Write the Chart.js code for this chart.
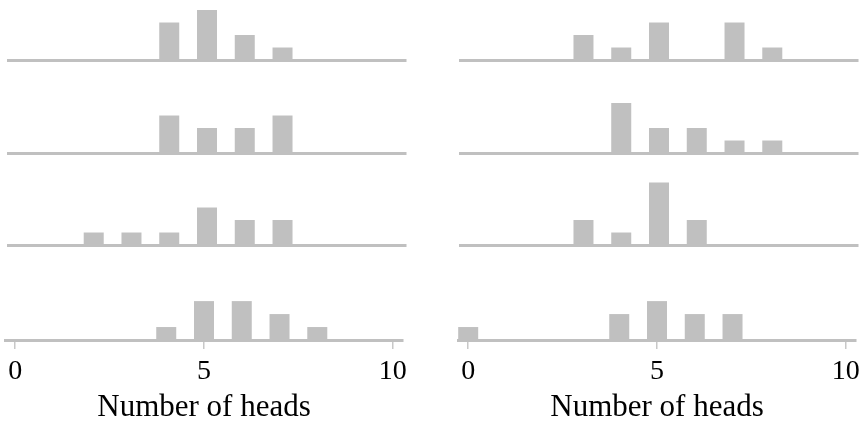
<!DOCTYPE html>
<html>
<head>
<meta charset="utf-8">
<script src="https://cdn.jsdelivr.net/npm/chart.js@4.4.1/dist/chart.umd.min.js"></script>
<style>
  html, body { margin: 0; padding: 0; background: #fff; }
  body { width: 865px; height: 424px; position: relative; overflow: hidden; }
  .panel { position: absolute; }
</style>
</head>
<body>
<div id="wrap"></div>
<script>
// number of heads in 10 flips, counted over 10 trials per panel
const heads = [0, 1, 2, 3, 4, 5, 6, 7, 8, 9, 10];
const countsL1 = [0, 0, 0, 0, 3, 4, 2, 1, 0, 0, 0];
const countsL2 = [0, 0, 0, 0, 3, 2, 2, 3, 0, 0, 0];
const countsL3 = [0, 0, 1, 1, 1, 3, 2, 2, 0, 0, 0];
const countsL4 = [0, 0, 0, 0, 1, 3, 3, 2, 1, 0, 0];
const countsR1 = [0, 0, 0, 2, 1, 3, 0, 3, 1, 0, 0];
const countsR2 = [0, 0, 0, 0, 4, 2, 2, 1, 1, 0, 0];
const countsR3 = [0, 0, 0, 2, 1, 5, 2, 0, 0, 0, 0];
const countsR4 = [1, 0, 0, 0, 2, 3, 2, 2, 0, 0, 0];
const xTicks = [0, 5, 10];
const xTitle = 'Number of heads';

const GREY = '#c0c0c0';
const X_MIN = -0.27, X_MAX = 10.27, Y_MAX = 6.4;

const panels = [
    { counts: countsL1, left: -12, top: -20, last: false },
    { counts: countsL2, left: -12, top: 73, last: false },
    { counts: countsL3, left: -12, top: 165, last: false },
    { counts: countsL4, left: -15, top: 257, last: true },
    { counts: countsR1, left: 440, top: -20, last: false },
    { counts: countsR2, left: 440, top: 73, last: false },
    { counts: countsR3, left: 440, top: 165, last: false },
    { counts: countsR4, left: 438, top: 257, last: true },
];

const wrap = document.getElementById('wrap');

panels.forEach(p => {
    const box = document.createElement('div');
    box.className = 'panel';
    box.style.left = p.left + 'px';
    box.style.top = p.top + 'px';
    box.style.width = '438px';
    box.style.height = (p.last ? 166 : 84) + 'px';
    const cv = document.createElement('canvas');
    box.appendChild(cv);
    wrap.appendChild(box);

    new Chart(cv.getContext('2d'), {
        type: 'bar',
        data: {
            datasets: [{
                data: heads.map((h, i) => ({ x: h, y: p.counts[i] })),
                backgroundColor: GREY,
                borderWidth: 0,
                categoryPercentage: 1,
                barPercentage: 0.53,
            }],
        },
        options: {
            responsive: true,
            maintainAspectRatio: false,
            animation: false,
            devicePixelRatio: 1,
            layout: { padding: { left: 20, right: 20, top: 0, bottom: p.last ? 0 : 4 } },
            plugins: { legend: { display: false }, tooltip: { enabled: false } },
            scales: {
                x: {
                    type: 'linear',
                    min: X_MIN,
                    max: X_MAX,
                    offset: false,
                    afterBuildTicks(scale) {
                        scale.ticks = xTicks.map(v => ({ value: v }));
                    },
                    border: { display: true, color: GREY, width: 3 },
                    grid: {
                        display: p.last,
                        offset: false,
                        drawOnChartArea: false,
                        drawTicks: p.last,
                        tickLength: 9,
                        color: '#c8c8c8',
                        lineWidth: 1.5,
                    },
                    ticks: {
                        display: p.last,
                        padding: 6,
                        color: '#000',
                        maxRotation: 0,
                        autoSkip: false,
                        font: { family: "'Liberation Serif', serif", size: 28 },
                    },
                    title: {
                        display: p.last,
                        text: xTitle,
                        color: '#000',
                        padding: 0,
                        font: { family: "'Liberation Serif', serif", size: 31, lineHeight: 1 },
                    },
                },
                y: { display: false, min: 0, max: Y_MAX },
            },
        },
    });
});
</script>
</body>
</html>
